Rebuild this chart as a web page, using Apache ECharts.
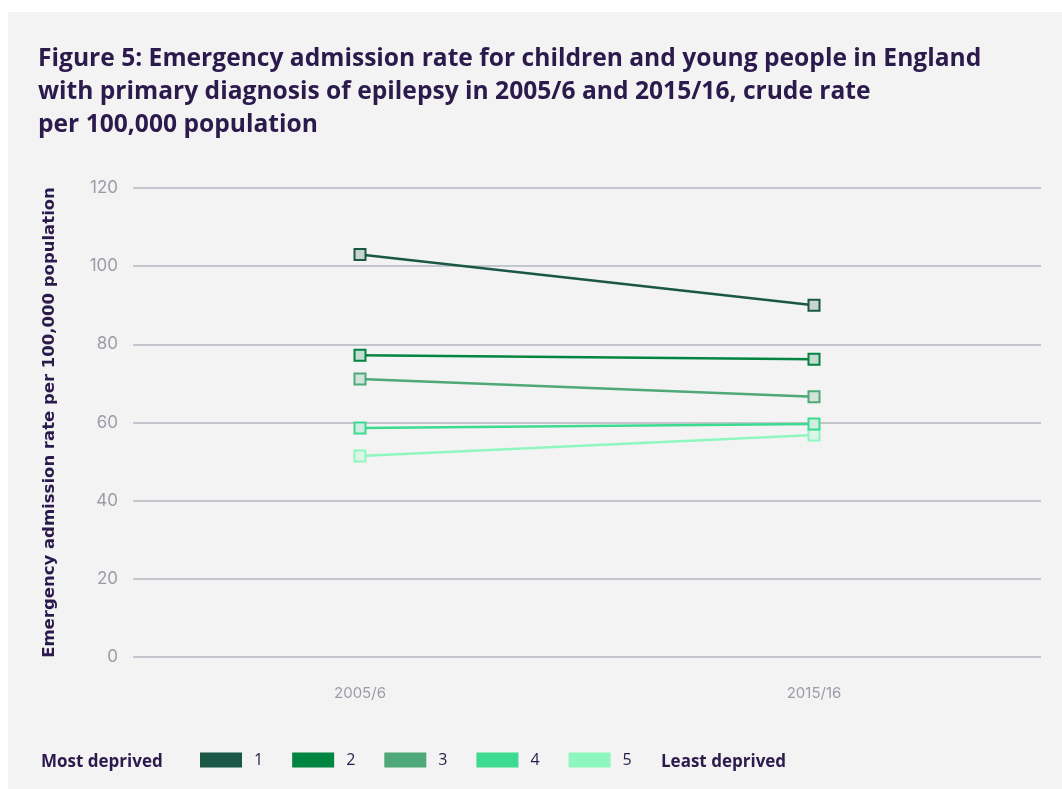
<!DOCTYPE html>
<html>
<head>
<meta charset="utf-8">
<script src="https://cdn.jsdelivr.net/npm/echarts@6/dist/echarts.min.js"></script>
<style>
html,body{margin:0;padding:0;background:#ffffff;}
#c{width:1062px;height:789px;}
</style>
</head>
<body>
<div id="c"></div>
<script>
var categories = ['2005/6', '2015/16'];
var seriesNames = ['1', '2', '3', '4', '5'];
var q1 = [103, 90];
var q2 = [77.2, 76.2];
var q3 = [71.1, 66.6];
var q4 = [58.6, 59.6];
var q5 = [51.4, 56.8];
var yTicks = [0, 20, 40, 60, 80, 100, 120];

var colors = ['#1b5745', '#00843f', '#4ea878', '#3ddb91', '#8ef7c0'];
var values = [q1, q2, q3, q4, q5];

function fillOf(hex) {
  var r = parseInt(hex.substr(1, 2), 16), g = parseInt(hex.substr(3, 2), 16), b = parseInt(hex.substr(5, 2), 16);
  var a = 0.2, bg = 243;
  return 'rgb(' + Math.round(a * r + (1 - a) * bg) + ',' + Math.round(a * g + (1 - a) * bg) + ',' + Math.round(a * b + (1 - a) * bg) + ')';
}

var series = seriesNames.map(function (n, i) {
  return {
    name: n,
    type: 'line',
    data: values[i],
    symbol: 'rect',
    symbolSize: 11,
    lineStyle: { color: colors[i], width: 2.5 },
    itemStyle: { color: fillOf(colors[i]), borderColor: colors[i], borderWidth: 2 },
    emphasis: { disabled: true },
    z: 10 - i
  };
});

var chart = echarts.init(document.getElementById('c'));
chart.setOption({
  backgroundColor: '#ffffff',
  animation: false,
  color: colors,
  graphic: [
    { type: 'rect', left: 8, top: 12, shape: { width: 1054, height: 777 }, style: { fill: '#f3f3f3' }, z: -10 },
    { type: 'text', left: 41, top: 754, style: { text: 'Most deprived', fontSize: 17, fontWeight: 'bold', fill: '#2b1a4c', fontFamily: 'Open Sans' } },
    { type: 'text', left: 661, top: 754, style: { text: 'Least deprived', fontSize: 17, fontWeight: 'bold', fill: '#2b1a4c', fontFamily: 'Open Sans' } }
  ],
  title: {
    text: 'Figure 5: Emergency admission rate for children and young people in England\nwith primary diagnosis of epilepsy in 2005/6 and 2015/16, crude rate\nper 100,000 population',
    left: 33,
    top: 37,
    textStyle: { fontSize: 24.6, fontWeight: 'bold', color: '#2b1a4c', lineHeight: 33, fontFamily: 'Open Sans' }
  },
  legend: {
    data: seriesNames.map(function (n, i) { return { name: n, itemStyle: { color: colors[i], borderWidth: 0 } }; }),
    icon: 'rect',
    itemWidth: 42,
    itemHeight: 15,
    itemGap: 29,
    left: 195,
    top: 747,
    textStyle: { fontSize: 16, color: '#2b1a4c', fontFamily: 'Open Sans', padding: [0, 0, 0, 7] },
    selectedMode: false
  },
  grid: { left: 133, right: 21, top: 188, bottom: 132, containLabel: false },
  xAxis: {
    type: 'category',
    data: categories,
    boundaryGap: true,
    axisLine: { show: false },
    axisTick: { show: false },
    axisLabel: { color: '#9a9ca8', fontSize: 15, margin: 29, fontFamily: 'Inter' }
  },
  yAxis: {
    type: 'value',
    min: 0,
    max: 120,
    interval: 20,
    name: 'Emergency admission rate per 100,000 population',
    nameLocation: 'middle',
    nameGap: 75,
    nameTextStyle: { fontSize: 16.5, fontWeight: 'bold', color: '#2b1a4c', fontFamily: 'DejaVu Sans', padding: [0, 0, 0, 0] },
    axisLine: { show: false },
    axisTick: { show: false },
    axisLabel: {
      color: '#9a9ca8', fontSize: 17, margin: 15, fontFamily: 'Inter',
      formatter: function (v) { return yTicks.indexOf(v) >= 0 ? String(v) : ''; }
    },
    splitLine: { lineStyle: { color: '#b5b7c0', width: 1.5 } }
  },
  series: series
});
</script>
</body>
</html>
